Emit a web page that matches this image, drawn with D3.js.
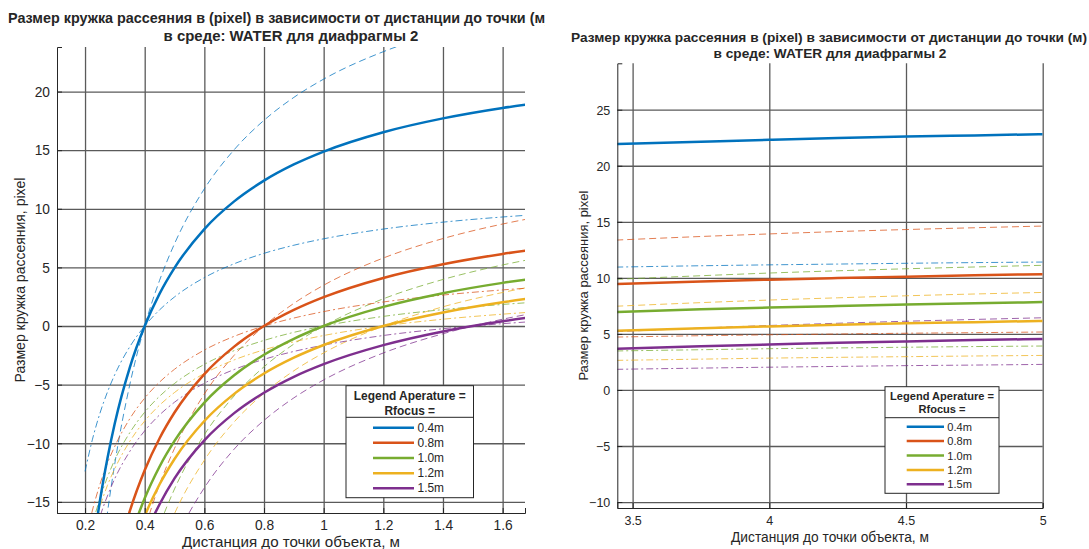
<!DOCTYPE html>
<html>
<head>
<meta charset="utf-8">
<script src="https://cdn.jsdelivr.net/npm/d3@7"></script>
<style>
  body { margin: 0; background: #fff; }
  svg { display: block; }
  text { font-family: "Liberation Sans", Arial, Helvetica, sans-serif; fill: #262626; }
</style>
</head>
<body>
<svg id="chart" width="1089" height="549"></svg>
<script>
// --- data ---
const focusLabels = ["0.4m", "0.8m", "1.0m", "1.2m", "1.5m"];
const colors = ["#0072BD", "#D95319", "#77AC30", "#EDB120", "#7E2F8E"];

const titleLine1 = "Размер кружка рассеяния в (pixel) в зависимости от дистанции до точки (м)";
const titleLine2 = "в среде: WATER для диафрагмы 2";
const xLabel = "Дистанция до точки объекта, м";
const yLabel = "Размер кружка рассеяния, pixel";
const legendHead = ["Legend Aperature =", "Rfocus ="];

// near range (left chart)
const nearDist = [0.2, 0.225, 0.25, 0.275, 0.3, 0.35, 0.4, 0.45, 0.5, 0.6, 0.7, 0.8, 0.9, 1.0, 1.2, 1.4, 1.6, 1.7];
const nearSolid = [
  [-24.8, -19.3, -14.9, -11.3, -8.27, -3.54, 0, 2.76, 4.96, 8.27, 10.63, 12.4, 13.78, 14.88, 16.53, 17.71, 18.6, 18.96],
  [-36.9, -31.4, -27.1, -23.5, -20.5, -15.8, -12.3, -9.57, -7.38, -4.1, -1.76, 0, 1.37, 2.46, 4.1, 5.27, 6.15, 6.51],
  [-39.2, -33.75, -29.4, -25.8, -22.9, -18.2, -14.7, -11.98, -9.8, -6.53, -4.2, -2.45, -1.09, 0, 1.63, 2.8, 3.68, 4.04],
  [-40.5, -35.1, -30.8, -27.2, -24.3, -19.7, -16.2, -13.5, -11.34, -8.1, -5.79, -4.05, -2.7, -1.62, 0, 1.16, 2.03, 2.38],
  [-42.3, -36.8, -32.5, -29.0, -26, -21.4, -17.9, -15.2, -13, -9.75, -7.43, -5.69, -4.33, -3.25, -1.63, -0.46, 0.41, 0.76]
];
const nearDashed = [
  [-35.1, -27.3, -21.1, -15.95, -11.7, -5.01, 0, 3.9, 7.02, 11.7, 15.04, 17.55, 19.5, 21.06, 23.4, 25.07, 26.3, 26.8],
  [-52.2, -44.5, -38.3, -33.2, -29, -22.4, -17.4, -13.5, -10.44, -5.8, -2.49, 0, 1.93, 3.48, 5.8, 7.46, 8.7, 9.21],
  [-55.6, -47.9, -41.7, -36.6, -32.4, -25.8, -20.85, -17.0, -13.9, -9.27, -5.96, -3.48, -1.54, 0, 2.32, 3.97, 5.21, 5.72],
  [-57.3, -49.6, -43.5, -38.5, -34.4, -27.8, -22.9, -19.1, -16.0, -11.45, -8.18, -5.73, -3.82, -2.29, 0, 1.64, 2.86, 3.37],
  [-59.8, -52.1, -46, -41, -36.8, -30.2, -25.3, -21.5, -18.4, -13.8, -10.5, -8.05, -6.13, -4.6, -2.3, -0.66, 0.58, 1.08]
];
const nearDashDot = [
  [-12.4, -9.65, -7.44, -5.64, -4.13, -1.77, 0, 1.38, 2.48, 4.13, 5.31, 6.2, 6.89, 7.44, 8.27, 8.86, 9.3, 9.48],
  [-18.45, -15.7, -13.5, -11.7, -10.25, -7.91, -6.15, -4.78, -3.69, -2.05, -0.88, 0, 0.68, 1.23, 2.05, 2.64, 3.08, 3.26],
  [-19.6, -16.9, -14.7, -12.9, -11.4, -9.1, -7.35, -5.99, -4.9, -3.27, -2.1, -1.23, -0.54, 0, 0.82, 1.4, 1.84, 2.02],
  [-20.25, -17.5, -15.4, -13.6, -12.15, -9.84, -8.1, -6.75, -5.67, -4.05, -2.89, -2.03, -1.35, -0.81, 0, 0.58, 1.01, 1.19],
  [-21.1, -18.4, -16.25, -14.5, -13, -10.7, -8.94, -7.58, -6.5, -4.88, -3.71, -2.84, -2.17, -1.63, -0.81, -0.23, 0.2, 0.38]
];
const nearTicksX = [0.2, 0.4, 0.6, 0.8, 1, 1.2, 1.4, 1.6];
const nearTicksY = [-15, -10, -5, 0, 5, 10, 15, 20];

// far range (right chart)
const farDist = [3.44, 3.75, 4.0, 4.25, 4.5, 4.75, 5.0];
const farSolid = [
  [21.93, 22.15, 22.32, 22.47, 22.6, 22.71, 22.82],
  [9.45, 9.68, 9.84, 9.98, 10.11, 10.23, 10.33],
  [6.96, 7.19, 7.35, 7.49, 7.62, 7.74, 7.84],
  [5.28, 5.51, 5.67, 5.81, 5.94, 6.05, 6.16],
  [3.67, 3.9, 4.06, 4.21, 4.33, 4.45, 4.55]
];
const farDashed = [
  [31.03, 31.35, 31.59, 31.8, 31.98, 32.14, 32.29],
  [13.37, 13.69, 13.92, 14.13, 14.31, 14.47, 14.62],
  [9.87, 10.19, 10.43, 10.63, 10.81, 10.97, 11.12],
  [7.47, 7.79, 8.02, 8.22, 8.4, 8.56, 8.7],
  [5.2, 5.52, 5.75, 5.95, 6.13, 6.29, 6.44]
];
const farDashDot = [
  [10.96, 11.08, 11.16, 11.23, 11.3, 11.36, 11.41],
  [4.72, 4.84, 4.92, 4.99, 5.06, 5.11, 5.17],
  [3.48, 3.59, 3.68, 3.75, 3.81, 3.87, 3.92],
  [2.64, 2.75, 2.84, 2.91, 2.97, 3.03, 3.08],
  [1.84, 1.95, 2.03, 2.1, 2.17, 2.22, 2.28]
];
const farTicksX = [3.5, 4, 4.5, 5];
const farTicksY = [-10, -5, 0, 5, 10, 15, 20, 25];

// --- layout ---
const panels = [
  {
    id: "near", clipX: 0, clipW: 545,
    left: 57, right: 525, top: 47, bottom: 513,
    xDomain: [0.106, 1.675], yDomain: [-15.95, 23.8],
    xTicks: nearTicksX, yTicks: nearTicksY,
    titleY: [18, 36], titleW: 255, title1X: 8, title1W: 542,
    xlabelY: 541, xlabelW: 218, ylabelX: 20, ylabelW: 205,
    xTickGap: 12, yTickGap: 7,
    legend: { x: 346, y: 385.7, w: 127.5, h: 112, sep: 417.3, head: [395.7, 410.7], headW: 112,
              row0: 427.7, rowStep: 15.15, lineX: [373, 414], textX: 417.5 },
    dist: nearDist, solid: nearSolid, dashed: nearDashed, dashdot: nearDashDot
  },
  {
    id: "far", clipX: 545, clipW: 544,
    left: 617.3, right: 1042.7, top: 63.3, bottom: 508,
    xDomain: [3.444, 5.0], yDomain: [-10.53, 29.14],
    xTicks: farTicksX, yTicks: farTicksY,
    titleY: [37, 53], titleW: 233, title1X: 571, title1W: 516,
    xlabelY: 537, xlabelW: 198, ylabelX: 583, ylabelW: 190,
    xTickGap: 13, yTickGap: 7,
    legend: { x: 885, y: 386.7, w: 114, h: 106.6, sep: 417.7, head: [395.7, 409.3], headW: 104,
              row0: 426.7, rowStep: 14.4, lineX: [906.7, 944], textX: 947.3 },
    dist: farDist, solid: farSolid, dashed: farDashed, dashdot: farDashDot
  }
];

const svg = d3.select("#chart");
const defs = svg.append("defs");

function fitWidth(sel, target) {
  const fs = parseFloat(sel.attr("font-size"));
  const w = sel.node().getComputedTextLength();
  const nfs = fs * target / w;
  sel.attr("font-size", nfs);
  return nfs;
}

panels.forEach((p) => {
  defs.append("clipPath").attr("id", p.id + "-panel")
    .append("rect").attr("x", p.clipX).attr("y", 0).attr("width", p.clipW).attr("height", 549);
  defs.append("clipPath").attr("id", p.id + "-plot")
    .append("rect").attr("x", p.left).attr("y", p.top)
    .attr("width", p.right - p.left).attr("height", p.bottom - p.top);

  const g = svg.append("g").attr("clip-path", `url(#${p.id}-panel)`);
  const x = d3.scaleLinear().domain(p.xDomain).range([p.left, p.right]);
  const y = d3.scaleLinear().domain(p.yDomain).range([p.bottom, p.top]);
  const w = p.right - p.left, h = p.bottom - p.top;

  // grid
  g.append("g").attr("transform", `translate(0,${p.bottom})`)
    .call(d3.axisBottom(x).tickValues(p.xTicks).tickSize(-h).tickFormat(""))
    .call((a) => a.select(".domain").remove())
    .call((a) => a.selectAll("line").attr("stroke", "#5a5a5a").attr("stroke-width", 1.3));
  g.append("g").attr("transform", `translate(${p.left},0)`)
    .call(d3.axisLeft(y).tickValues(p.yTicks).tickSize(-w).tickFormat(""))
    .call((a) => a.select(".domain").remove())
    .call((a) => a.selectAll("line").attr("stroke", "#5a5a5a").attr("stroke-width", 1.3));

  // series
  const plot = g.append("g").attr("clip-path", `url(#${p.id}-plot)`);
  const line = d3.line().x((d) => x(d[0])).y((d) => y(d[1])).curve(d3.curveMonotoneX);
  const styles = [
    { rows: p.dashed, dash: "7,4", width: 1, opacity: 0.75 },
    { rows: p.dashdot, dash: "7,3,2,3", width: 1, opacity: 0.75 },
  ];
  styles.forEach((s) => {
    s.rows.forEach((vals, i) => {
      plot.append("path")
        .datum(p.dist.map((d, j) => [d, vals[j]]))
        .attr("d", line)
        .attr("fill", "none")
        .attr("stroke", colors[i])
        .attr("stroke-width", s.width)
        .attr("stroke-opacity", s.opacity)
        .attr("stroke-dasharray", s.dash);
    });
  });
  p.solid.forEach((vals, i) => {
    plot.append("path")
      .datum(p.dist.map((d, j) => [d, vals[j]]))
      .attr("d", line)
      .attr("fill", "none")
      .attr("stroke", colors[i])
      .attr("stroke-width", 2.5);
  });

  // axes lines + inner ticks + labels
  const fsLab = 13;
  const xl = g.append("text").attr("x", (p.left + p.right) / 2).attr("y", p.xlabelY)
    .attr("font-size", fsLab).attr("text-anchor", "middle").attr("dominant-baseline", "central")
    .text(xLabel);
  const labFs = fitWidth(xl, p.xlabelW);
  const tickFs = labFs / 1.1;

  const yl = g.append("text").attr("transform", `translate(${p.ylabelX},${(p.top + p.bottom) / 2}) rotate(-90)`)
    .attr("font-size", fsLab).attr("text-anchor", "middle").attr("dominant-baseline", "central")
    .text(yLabel);
  fitWidth(yl, p.ylabelW);

  const xAxis = g.append("g").attr("transform", `translate(0,${p.bottom})`)
    .call(d3.axisBottom(x).tickValues(p.xTicks).tickSize(-5).tickPadding(0).tickFormat(d3.format("~g")));
  xAxis.selectAll("text").attr("y", p.xTickGap).attr("dy", "0.35em")
    .attr("font-size", tickFs).attr("fill", "#262626");
  const yAxis = g.append("g").attr("transform", `translate(${p.left},0)`)
    .call(d3.axisLeft(y).tickValues(p.yTicks).tickSize(-5).tickPadding(0).tickFormat(d3.format("~g")));
  yAxis.selectAll("text").attr("x", -p.yTickGap).attr("dy", "0.35em")
    .attr("font-size", tickFs).attr("fill", "#262626");
  [xAxis, yAxis].forEach((a) => {
    a.attr("font-family", null).attr("font-size", null);
    a.select(".domain").attr("stroke", "#262626").attr("stroke-width", 1);
    a.selectAll(".tick line").attr("stroke", "#262626");
  });

  // title
  const t2 = g.append("text").attr("x", (p.left + p.right) / 2)
    .attr("font-size", 12).attr("font-weight", "bold").attr("text-anchor", "middle")
    .text(titleLine2);
  const tFs = fitWidth(t2, p.titleW);
  t2.attr("y", p.titleY[1] + 0.36 * tFs);
  const t1 = g.append("text").attr("x", p.title1X)
    .attr("font-size", tFs).attr("font-weight", "bold").attr("text-anchor", "start")
    .text(titleLine1);
  const t1Fs = fitWidth(t1, p.title1W);
  t1.attr("y", p.titleY[0] + 0.36 * t1Fs);

  // legend
  const L = p.legend;
  const lg = g.append("g");
  lg.append("rect").attr("x", L.x).attr("y", L.y).attr("width", L.w).attr("height", L.h)
    .attr("fill", "#fff").attr("stroke", "#262626").attr("stroke-width", 1);
  lg.append("line").attr("x1", L.x).attr("x2", L.x + L.w).attr("y1", L.sep).attr("y2", L.sep)
    .attr("stroke", "#262626").attr("stroke-width", 1);
  const h0 = lg.append("text").attr("x", L.x + L.w / 2).attr("y", L.head[0])
    .attr("font-size", 11).attr("font-weight", "bold").attr("text-anchor", "middle")
    .attr("dominant-baseline", "central").text(legendHead[0]);
  const hFs = fitWidth(h0, L.headW);
  lg.append("text").attr("x", L.x + L.w / 2).attr("y", L.head[1])
    .attr("font-size", hFs).attr("font-weight", "bold").attr("text-anchor", "middle")
    .attr("dominant-baseline", "central").text(legendHead[1]);
  focusLabels.forEach((lab, i) => {
    const ry = L.row0 + i * L.rowStep;
    lg.append("line").attr("x1", L.lineX[0]).attr("x2", L.lineX[1]).attr("y1", ry).attr("y2", ry)
      .attr("stroke", colors[i]).attr("stroke-width", 2.5);
    lg.append("text").attr("x", L.textX).attr("y", ry)
      .attr("font-size", hFs).attr("dominant-baseline", "central").text(lab);
  });
});
</script>
</body>
</html>
